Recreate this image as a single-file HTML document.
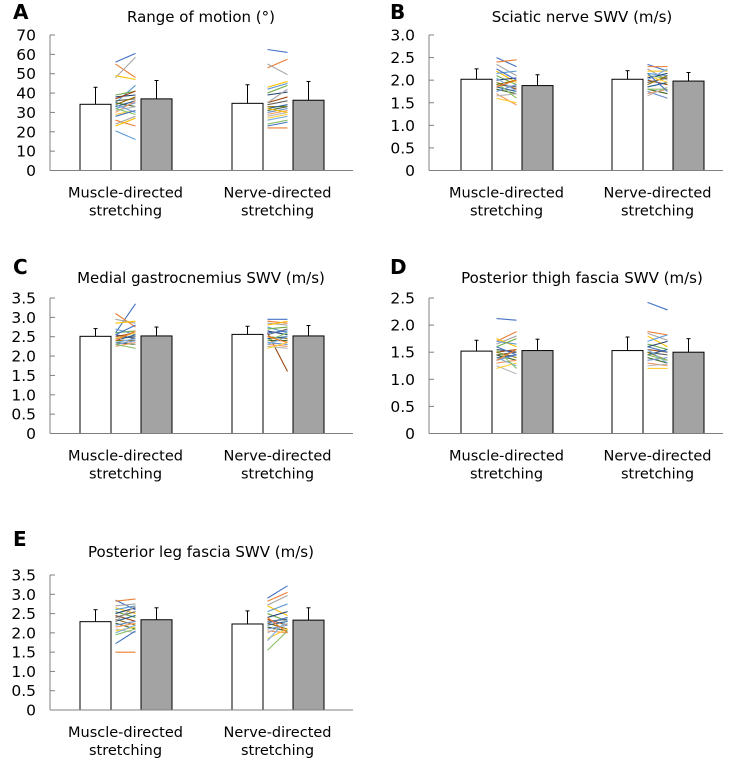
<!DOCTYPE html>
<html><head><meta charset="utf-8"><style>
html,body{margin:0;padding:0;background:#fff;}
svg{display:block;font-family:"DejaVu Sans","Liberation Sans",sans-serif;}
</style></head><body>
<svg id="fig" width="735" height="758" viewBox="0 0 735 758"></svg>
<script>
const categories = ["Muscle-directed stretching","Nerve-directed stretching"];
const panelTitles = ["Range of motion (°)","Sciatic nerve SWV (m/s)","Medial gastrocnemius SWV (m/s)","Posterior thigh fascia SWV (m/s)","Posterior leg fascia SWV (m/s)"];
const panelLetters = ["A","B","C","D","E"];
const axisMax = [70,3.0,3.5,2.5,3.5];
const tickStep = [10,0.5,0.5,0.5,0.5];
const meansA = [[34.2,37.0],[34.7,36.3]];
const sdA = [[8.8,9.5],[9.6,9.7]];
const meansB = [[2.02,1.88],[2.02,1.98]];
const sdB = [[0.23,0.24],[0.19,0.19]];
const meansC = [[2.51,2.52],[2.56,2.52]];
const sdC = [[0.20,0.23],[0.21,0.27]];
const meansD = [[1.52,1.53],[1.53,1.50]];
const sdD = [[0.20,0.21],[0.25,0.25]];
const meansE = [[2.29,2.34],[2.23,2.33]];
const sdE = [[0.31,0.31],[0.34,0.32]];
const indA1 = [[56,60.5],[55,48],[48,58.5],[49,47],[35,44],[39,41],[38,39],[37,41],[36,37],[34,38],[33,36],[35,33],[32,35],[30,36],[31,33],[29,31],[34,30],[32,29],[28,31],[26,23],[24,28],[23,27],[20.5,16]];
const indA2 = [[62.5,61],[53,57.5],[55,49.5],[43,46],[42,45],[40,44],[39,40.5],[35,38],[34,36],[33,33],[32,34],[31,33],[30,32],[29,31],[28,30],[27,29],[26,28],[24,26],[23,25],[22,22],[35,42],[32,30]];
const indB1 = [[2.5,2.3],[2.4,2.45],[2.35,2.1],[2.2,1.95],[2.15,2.2],[2.1,1.9],[2.0,2.05],[1.95,1.8],[1.9,1.85],[1.9,2.0],[1.85,1.75],[1.8,1.7],[1.75,1.9],[1.7,1.45],[1.65,1.7],[1.6,1.5],[2.05,1.75],[1.95,1.6],[2.25,2.0],[1.85,2.0]];
const indB2 = [[2.35,2.2],[2.3,2.3],[2.25,2.0],[2.2,2.2],[2.15,2.1],[2.1,2.05],[2.05,2.15],[2.0,1.9],[1.95,2.05],[1.9,2.1],[1.85,1.95],[1.8,1.7],[1.75,1.6],[1.7,1.8],[1.65,1.85],[2.1,1.95],[2.0,2.25],[1.8,1.8],[2.15,1.75]];
const indC1 = [[2.6,3.35],[3.1,2.75],[2.95,2.85],[2.85,2.9],[2.7,2.55],[2.6,2.65],[2.55,2.45],[2.5,2.6],[2.45,2.5],[2.4,2.4],[2.4,2.55],[2.35,2.3],[2.3,2.4],[2.25,2.35],[2.5,2.3],[2.45,2.6],[2.35,2.45],[2.3,2.2],[2.55,2.8],[2.4,2.65]];
const indC2 = [[2.95,2.95],[2.9,2.85],[2.85,2.8],[2.8,2.9],[2.75,2.6],[2.7,2.75],[2.65,2.55],[2.6,1.6],[2.55,2.7],[2.5,2.45],[2.45,2.5],[2.4,2.4],[2.35,2.3],[2.3,2.25],[2.25,2.2],[2.2,2.35],[2.3,2.5],[2.4,2.6],[2.6,2.65],[2.5,2.35]];
const indD1 = [[2.12,2.09],[1.7,1.88],[1.65,1.8],[1.75,1.6],[1.7,1.65],[1.6,1.75],[1.55,1.5],[1.5,1.55],[1.45,1.5],[1.5,1.4],[1.4,1.45],[1.45,1.35],[1.35,1.45],[1.3,1.35],[1.25,1.1],[1.2,1.3],[1.4,1.25],[1.55,1.2],[1.6,1.45],[1.35,1.55]];
const indD2 = [[2.42,2.28],[1.88,1.82],[1.85,1.72],[1.8,1.6],[1.7,1.82],[1.65,1.55],[1.6,1.7],[1.55,1.5],[1.5,1.45],[1.5,1.35],[1.45,1.55],[1.4,1.3],[1.35,1.4],[1.3,1.25],[1.25,1.28],[1.2,1.2],[1.55,1.3],[1.45,1.35],[1.6,1.5]];
const indE1 = [[2.85,2.6],[2.82,2.88],[2.7,2.75],[2.65,2.5],[2.6,2.7],[2.55,2.4],[2.5,2.65],[2.45,2.3],[2.4,2.55],[2.35,2.2],[2.3,2.45],[2.25,2.1],[2.2,2.3],[2.15,2.25],[2.1,2.0],[2.05,2.15],[2.0,2.2],[1.95,2.1],[1.72,2.05],[1.5,1.5],[2.3,2.7]];
const indE2 = [[2.9,3.22],[2.82,3.05],[2.72,2.97],[2.7,2.45],[2.55,2.75],[2.5,2.3],[2.4,2.55],[2.35,2.2],[2.3,2.35],[2.25,2.1],[2.2,2.3],[2.15,2.05],[2.1,2.2],[2.05,2.0],[2.0,2.25],[1.85,2.1],[1.8,2.35],[1.55,2.05],[2.25,2.4],[2.4,2.0]];

const allMeans=[meansA,meansB,meansC,meansD,meansE];
const allSd=[sdA,sdB,sdC,sdD,sdE];
const allInd=[[indA1,indA2],[indB1,indB2],[indC1,indC2],[indD1,indD2],[indE1,indE2]];
const layout=[
 {ax:50,end:353,top:35,base:170.5,c:[125.5,277.5],lx:13,ly:19,tx:201,ty:22},
 {ax:429,end:723,top:35,base:170.5,c:[506.5,657.5],lx:390,ly:19,tx:582,ty:22},
 {ax:50,end:353,top:298,base:433.5,c:[125.5,277.5],lx:13,ly:274,tx:201,ty:283},
 {ax:429,end:723,top:298,base:433.5,c:[506.5,657.5],lx:390,ly:274,tx:582,ty:283},
 {ax:50,end:353,top:575,base:710,c:[125.5,277.5],lx:13,ly:546,tx:201,ty:557}
];
const palette=["#4472C4","#ED7D31","#A5A5A5","#FFC000","#5B9BD5","#70AD47","#264478","#9E480E","#636363","#997300","#255E91","#43682B","#698ED0","#F1975A","#B7B7B7","#FFCD33","#7CAFDD","#8CC168"];
const NS="http://www.w3.org/2000/svg";
const svg=document.getElementById('fig');
function mk(tag,attrs,parent,text){const e=document.createElementNS(NS,tag);for(const k in attrs)e.setAttribute(k,attrs[k]);if(text!==undefined)e.textContent=text;parent.appendChild(e);return e;}
layout.forEach((L,p)=>{
  const g=mk('g',{},svg);
  
  
  const y=v=>L.base-(v/axisMax[p])*(L.base-L.top);
  const letter=mk('text',{x:L.lx,y:L.ly,'font-size':20,'font-weight':'bold',fill:'#000'},g,panelLetters[p]);
  
  
  const t=mk('text',{x:L.tx,y:L.ty,'font-size':15,'text-anchor':'middle',fill:'#000'},g,panelTitles[p]);
  
  
  const ya=mk('line',{x1:L.ax,y1:L.top,x2:L.ax,y2:L.base,stroke:'#808080','stroke-width':1},g);
  
  
  const n=Math.round(axisMax[p]/tickStep[p]);
  for(let i=0;i<=n;i++){
    const v=i*tickStep[p];const yy=y(v);
    if(i>0) mk('line',{x1:L.ax,y1:yy,x2:L.ax+5,y2:yy,stroke:'#808080','stroke-width':1},g);
    const lab=i===0?'0':(tickStep[p]<1?v.toFixed(1):String(v));
    const tl=mk('text',{x:L.ax-14,y:yy+5.5,'font-size':15.5,'text-anchor':'end',fill:'#000'},g,lab);
    
    
  }
  const ms=allMeans[p],sd=allSd[p],ind=allInd[p];
  [0,1].forEach(gi=>{
    const c=L.c[gi];
    [0,1].forEach(k=>{
      const x0=k===0?c-45.5:c+15.5;const m=ms[gi][k];
      const top=y(m+sd[gi][k]);
      mk('line',{x1:x0+15.5,y1:y(m),x2:x0+15.5,y2:top,stroke:'#000','stroke-width':1},g);
      mk('line',{x1:x0+13.5,y1:top,x2:x0+17.5,y2:top,stroke:'#000','stroke-width':1},g);
      const r=mk('rect',{x:x0,y:y(m),width:31,height:L.base-y(m),fill:k===0?'#fff':'#A3A3A3',stroke:'#000','stroke-width':1},g);
      
      
    });
    ind[gi].forEach((d,j)=>{
      const ln=mk('line',{x1:c-10,y1:y(d[0]),x2:c+10,y2:y(d[1]),stroke:palette[j%palette.length],'stroke-width':1.1},g);
      
      
    });
    const words=categories[gi].split(' ');
    const cl=mk('text',{x:c,y:L.base+27,'font-size':14.5,'text-anchor':'middle',fill:'#000'},g);
    
    
    mk('tspan',{x:c,dy:0},cl,words[0]);
    mk('tspan',{x:c,dy:18},cl,words[1]);
  });
  const xa=mk('line',{x1:L.ax,y1:L.base,x2:L.end,y2:L.base,stroke:'#808080','stroke-width':1},g);
  
  
});
</script>
</body></html>
